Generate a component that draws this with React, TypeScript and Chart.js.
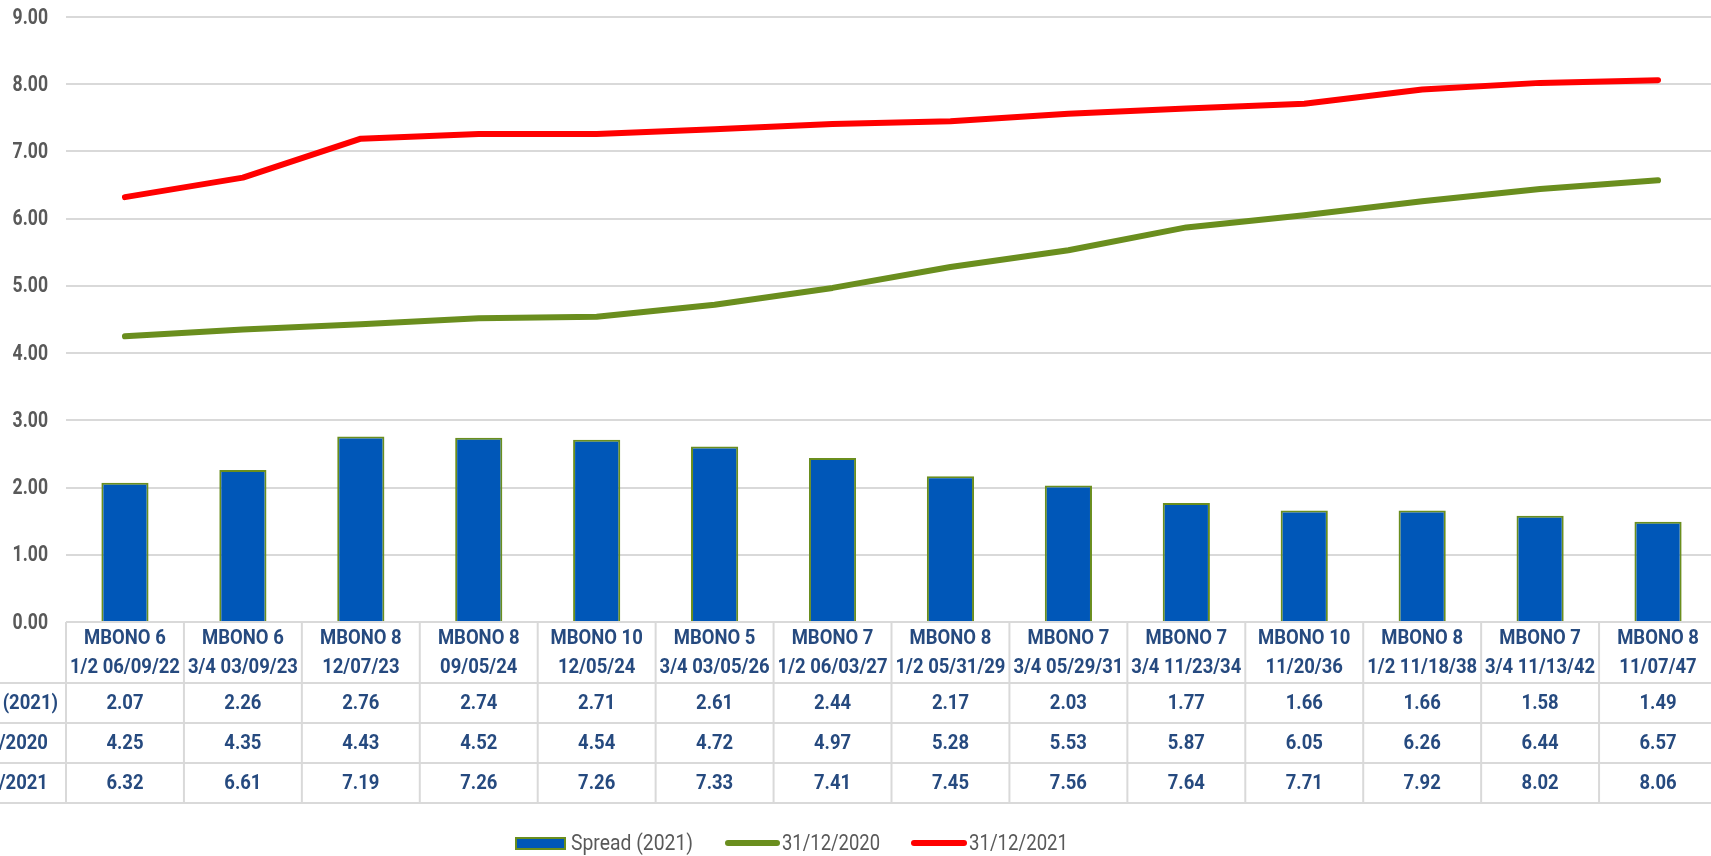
import { useEffect, useRef } from "react";
import { Chart, registerables } from "chart.js";

Chart.register(...registerables);

const bondNames = [
  "MBONO 6", "MBONO 6", "MBONO 8", "MBONO 8", "MBONO 10", "MBONO 5", "MBONO 7",
  "MBONO 8", "MBONO 7", "MBONO 7", "MBONO 10", "MBONO 8", "MBONO 7", "MBONO 8",
];
const bondDetails = [
  "1/2 06/09/22", "3/4 03/09/23", "12/07/23", "09/05/24", "12/05/24", "3/4 03/05/26", "1/2 06/03/27",
  "1/2 05/31/29", "3/4 05/29/31", "3/4 11/23/34", "11/20/36", "1/2 11/18/38", "3/4 11/13/42", "11/07/47",
];
const spread2021 = [2.07, 2.26, 2.76, 2.74, 2.71, 2.61, 2.44, 2.17, 2.03, 1.77, 1.66, 1.66, 1.58, 1.49];
const yield20201231 = [4.25, 4.35, 4.43, 4.52, 4.54, 4.72, 4.97, 5.28, 5.53, 5.87, 6.05, 6.26, 6.44, 6.57];
const yield20211231 = [6.32, 6.61, 7.19, 7.26, 7.26, 7.33, 7.41, 7.45, 7.56, 7.64, 7.71, 7.92, 8.02, 8.06];
const seriesLabels = ["Spread (2021)", "31/12/2020", "31/12/2021"];
const yMin = 0;
const yMax = 9;
const yStep = 1;

const BLUE = "#0057B8";
const GREEN = "#6A8E1E";
const RED = "#FF0000";
const GRID = "#D9D9D9";
const TABLE_TEXT = "#264A7F";
const AXIS_TEXT = "#595959";
const FONT = "Roboto, 'Liberation Sans', sans-serif";

const tableRows = [spread2021, yield20201231, yield20211231];

function narrowText(ctx: CanvasRenderingContext2D, t: string, px: number, py: number, sx: number) {
  ctx.save();
  ctx.translate(px, py);
  ctx.scale(sx, 1);
  ctx.fillText(t, 0, 0);
  ctx.restore();
  return ctx.measureText(t).width * sx;
}

const tablePlugin = {
  id: "dataTable",
  afterDraw(chart: any) {
    const { ctx, chartArea, scales } = chart;
    const x = scales.x;
    const y = scales.y;
    const n = bondNames.length;
    const colW = (chartArea.right - chartArea.left) / n;
    const top = chartArea.bottom;
    const headerH = 61;
    const rowH = 40;
    const rowTops = [top + headerH, top + headerH + rowH, top + headerH + 2 * rowH, top + headerH + 3 * rowH];
    ctx.save();

    // y tick labels
    ctx.fillStyle = AXIS_TEXT;
    ctx.font = `bold 22px ${FONT}`;
    ctx.textAlign = "right";
    ctx.textBaseline = "middle";
    y.ticks.forEach((t: any) => {
      narrowText(ctx, Number(t.value).toFixed(2), chartArea.left - 18, y.getPixelForValue(t.value) + 1, 0.8);
    });

    ctx.strokeStyle = GRID;
    ctx.lineWidth = 2;
    rowTops.forEach((yy) => {
      ctx.beginPath();
      ctx.moveTo(0, yy);
      ctx.lineTo(chart.width, yy);
      ctx.stroke();
    });
    for (let i = 0; i <= n; i++) {
      const xx = chartArea.left + i * colW;
      ctx.beginPath();
      ctx.moveTo(xx, top);
      ctx.lineTo(xx, rowTops[3]);
      ctx.stroke();
    }

    ctx.fillStyle = TABLE_TEXT;
    ctx.font = `bold 21px ${FONT}`;
    ctx.textAlign = "center";
    ctx.textBaseline = "middle";
    const sx = 0.88;
    for (let i = 0; i < n; i++) {
      const cx = x.getPixelForValue(i);
      narrowText(ctx, bondNames[i], cx, top + 17, sx);
      narrowText(ctx, bondDetails[i], cx, top + 46, sx);
    }
    tableRows.forEach((row, r) => {
      const cy = rowTops[r] + rowH / 2 + 1;
      row.forEach((v, i) => {
        narrowText(ctx, v.toFixed(2), x.getPixelForValue(i), cy, sx);
      });
    });
    // row labels, centred in a label column that runs off the left edge
    const w0 = ctx.measureText(seriesLabels[0]).width * sx;
    const labelCx = chartArea.left - 8 - w0 / 2;
    seriesLabels.forEach((lab, r) => {
      narrowText(ctx, lab, labelCx, rowTops[r] + rowH / 2 + 1, sx);
    });

    // legend
    const legendY = 844;
    ctx.font = `22px ${FONT}`;
    ctx.textAlign = "left";
    const fitText = (t: string, px: number, target: number) => {
      ctx.fillStyle = AXIS_TEXT;
      const w = ctx.measureText(t).width;
      narrowText(ctx, t, px, legendY, target / w);
    };
    ctx.fillStyle = BLUE;
    ctx.fillRect(515, legendY - 7, 51, 13);
    ctx.strokeStyle = GREEN;
    ctx.lineWidth = 2;
    ctx.strokeRect(516, legendY - 6, 49, 11);
    fitText(seriesLabels[0], 571, 122);
    const lineKey = (color: string, x0: number, x1: number) => {
      ctx.strokeStyle = color;
      ctx.lineWidth = 6;
      ctx.lineCap = "round";
      ctx.beginPath();
      ctx.moveTo(x0 + 3, legendY - 1);
      ctx.lineTo(x1 - 3, legendY - 1);
      ctx.stroke();
    };
    lineKey(GREEN, 725, 780);
    fitText(seriesLabels[1], 782, 98);
    lineKey(RED, 911, 967);
    fitText(seriesLabels[2], 969, 99);
    ctx.restore();
  },
};

export default function App() {
  const ref = useRef<HTMLCanvasElement>(null);
  useEffect(() => {
    if (!ref.current) return;
    const chart = new Chart(ref.current, {
      type: "bar",
      data: {
        labels: bondNames.map((nm, i) => `${nm} ${bondDetails[i]}`),
        datasets: [
          {
            type: "line",
            label: seriesLabels[2],
            data: yield20211231,
            borderColor: RED,
            backgroundColor: RED,
            borderWidth: 6,
            pointRadius: 0,
            tension: 0,
            borderCapStyle: "round",
            borderJoinStyle: "round",
            fill: false,
          } as any,
          {
            type: "line",
            label: seriesLabels[1],
            data: yield20201231,
            borderColor: GREEN,
            backgroundColor: GREEN,
            borderWidth: 6,
            pointRadius: 0,
            tension: 0,
            borderCapStyle: "round",
            borderJoinStyle: "round",
            fill: false,
          } as any,
          {
            type: "bar",
            label: seriesLabels[0],
            data: spread2021,
            backgroundColor: BLUE,
            borderColor: GREEN,
            borderWidth: 2,
            barPercentage: 0.4,
            categoryPercentage: 1,
          } as any,
        ],
      },
      options: {
        responsive: false,
        animation: false,
        devicePixelRatio: 1,
        layout: { padding: { top: 17, left: 0, right: 0, bottom: 0 } },
        plugins: {
          legend: { display: false },
          tooltip: { enabled: false },
        },
        scales: {
          x: {
            grid: { display: false },
            border: { display: false },
            ticks: { display: false },
            afterFit: (s: any) => {
              s.height = 234;
            },
          },
          y: {
            min: yMin,
            max: yMax,
            ticks: {
              display: false,
              stepSize: yStep,
              callback: (v: any) => Number(v).toFixed(2),
            },
            grid: { color: GRID, lineWidth: 2, drawTicks: false },
            border: { display: false },
            afterFit: (s: any) => {
              s.width = 66;
            },
          },
        },
      },
      plugins: [tablePlugin],
    });
    return () => chart.destroy();
  }, []);
  return (
    <div style={{ position: "fixed", left: 0, top: 0, width: 1711, height: 856, overflow: "hidden", background: "#fff" }}>
      <canvas ref={ref} width={1717} height={856} style={{ display: "block" }} />
    </div>
  );
}
